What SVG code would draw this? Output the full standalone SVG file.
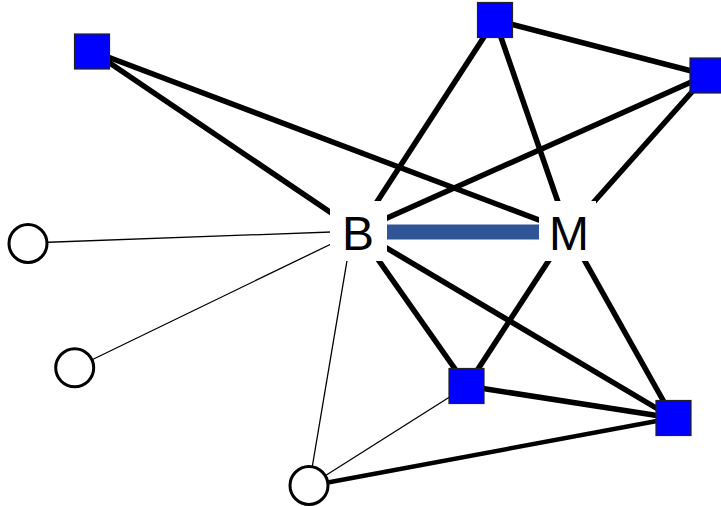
<svg xmlns="http://www.w3.org/2000/svg" width="721" height="506" viewBox="0 0 721 506">
  <style>
    .thick { stroke: #000; stroke-width: 5.5; fill: none; }
    .thin { stroke: #000; stroke-width: 1.3; fill: none; }
    .mid { stroke: #000; stroke-width: 4.5; fill: none; }
    .link { stroke: #2F5597; stroke-width: 15; fill: none; }
    .sq { fill: #0000FF; stroke: #222; stroke-width: 1.2; }
    .circ { fill: #fff; stroke: #000; stroke-width: 3; }
    .pad { fill: #fff; }
    .lbl { font-family: "Liberation Sans", Arial, sans-serif; font-size: 48px; fill: #000; text-anchor: middle; }
  </style>
  <rect width="721" height="506" fill="#fff"/>

  <g id="connectors">
    <line class="thick" x1="92" y1="51" x2="358" y2="231"/>
    <line class="thick" x1="92" y1="51" x2="568" y2="231"/>
    <line class="thick" x1="495" y1="20" x2="358" y2="231"/>
    <line class="thick" x1="495" y1="20" x2="568" y2="231"/>
    <line class="thick" x1="495" y1="20" x2="707" y2="75"/>
    <line class="thick" x1="707" y1="75" x2="358" y2="231"/>
    <line class="thick" x1="707" y1="75" x2="568" y2="231"/>
    <line class="thick" x1="358" y1="231" x2="467" y2="386"/>
    <line class="thick" x1="358" y1="231" x2="673" y2="418"/>
    <line class="thick" x1="568" y1="231" x2="467" y2="386"/>
    <line class="thick" x1="568" y1="231" x2="673" y2="418"/>
    <line class="thick" x1="467" y1="386" x2="673" y2="418"/>
    <line class="mid" x1="309" y1="486" x2="673" y2="418"/>
    <line class="thin" x1="309" y1="486" x2="467" y2="386"/>
    <line class="thin" x1="309" y1="486" x2="352" y2="231"/>
    <line class="thin" x1="28" y1="243" x2="358" y2="231"/>
    <line class="thin" x1="75" y1="368" x2="358" y2="231"/>
    <line class="link" x1="358" y1="232" x2="568" y2="232"/>
  </g>

  <g id="node-B">
    <rect class="pad" x="330" y="201" width="57" height="60"/>
    <text class="lbl" x="358" y="250">B</text>
  </g>
  <g id="node-M">
    <rect class="pad" x="539" y="201" width="57" height="60"/>
    <text class="lbl" x="569" y="250">M</text>
  </g>

  <g id="node-s1"><rect class="sq" x="74.5" y="34" width="35" height="35"/></g>
  <g id="node-s2"><rect class="sq" x="477.5" y="2.5" width="35" height="35"/></g>
  <g id="node-s3"><rect class="sq" x="690" y="58" width="35" height="35"/></g>
  <g id="node-s4"><rect class="sq" x="449" y="368.5" width="35" height="35"/></g>
  <g id="node-s5"><rect class="sq" x="656" y="400.5" width="35" height="35"/></g>

  <g id="node-c1"><circle class="circ" cx="28" cy="243.5" r="19"/></g>
  <g id="node-c2"><circle class="circ" cx="74.7" cy="367.8" r="19"/></g>
  <g id="node-c3"><circle class="circ" cx="309" cy="485.5" r="19"/></g>
</svg>
